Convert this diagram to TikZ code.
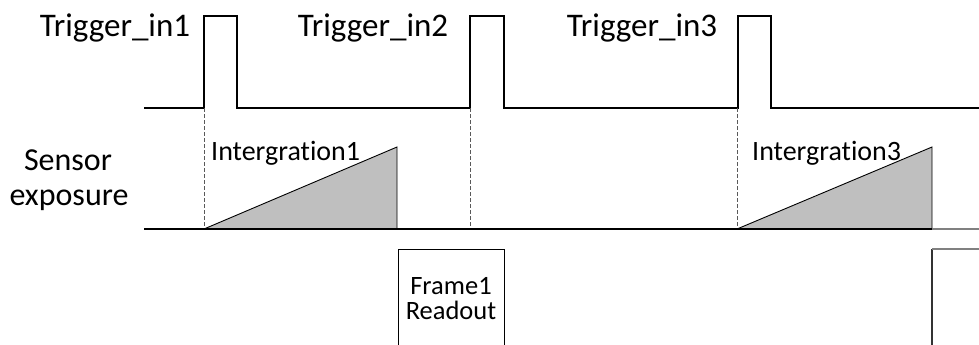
\documentclass[tikz,border=0pt]{standalone}
\usepackage{fontspec}
\setmainfont[Ligatures=NoCommon]{Carlito}
\begin{document}
\begin{tikzpicture}[x=1pt,y=-1pt,
  sig/.style={line width=1.1pt, black},
  guide/.style={line width=0.9pt, black!65, dash pattern=on 4pt off 2pt},
  ramp/.style={draw=black, line width=0.9pt, fill=black!25},
  big/.style={font=\fontsize{33}{38}\selectfont, anchor=base, inner sep=0pt},
  side/.style={font=\fontsize{32}{38}\selectfont, anchor=base, inner sep=0pt},
  mid/.style={font=\fontsize{28}{32}\selectfont, anchor=base, inner sep=0pt},
  box/.style={font=\fontsize{26.5}{30}\selectfont, anchor=base, inner sep=0pt}]
\useasboundingbox (0,0) rectangle (979,345);
% trigger signal
\draw[sig] (144,108) -- (204,108) -- (204,16) -- (237,16) -- (237,108)
  -- (470,108) -- (470,16) -- (504,16) -- (504,108)
  -- (738,108) -- (738,16) -- (771,16) -- (771,108) -- (979,108);
\node[big] (t1) at (115,37) {Trigger\_in1};
\node[big] (t2) at (373,37) {Trigger\_in2};
\node[big] (t3) at (642,37) {Trigger\_in3};
% guides
\draw[guide] (204,108) -- (204,229);
\draw[guide] (470,108) -- (470,229);
\draw[guide] (737,108) -- (737,229);
% ramps
\draw[ramp] (204,229) -- (397,147) -- (397,229) -- cycle;
\draw[ramp] (737,229) -- (932,147) -- (932,229) -- cycle;
% sensor baseline
\draw[sig] (144,229) -- (932,229);
\draw[line width=1.1pt, gray] (932,229) -- (979,229);
\node[side] (s1) at (68,170) {Sensor};
\node[side] (s2) at (69,205) {exposure};
\node[mid, anchor=base west] (i1) at (211,160) {Intergration1};
\node[mid, anchor=base west] (i3) at (752,160) {Intergration3};
% readout
\draw[line width=0.9pt] (398,345) -- (398,249) -- (504,249) -- (504,345);
\node[box] (f1) at (451,294) {Frame1};
\node[box] (f2) at (451,319) {Readout};
\draw[line width=1.1pt, black!80] (932,345) -- (932,249);
\draw[line width=1.1pt, gray] (932,249) -- (979,249);
\end{tikzpicture}
\end{document}
